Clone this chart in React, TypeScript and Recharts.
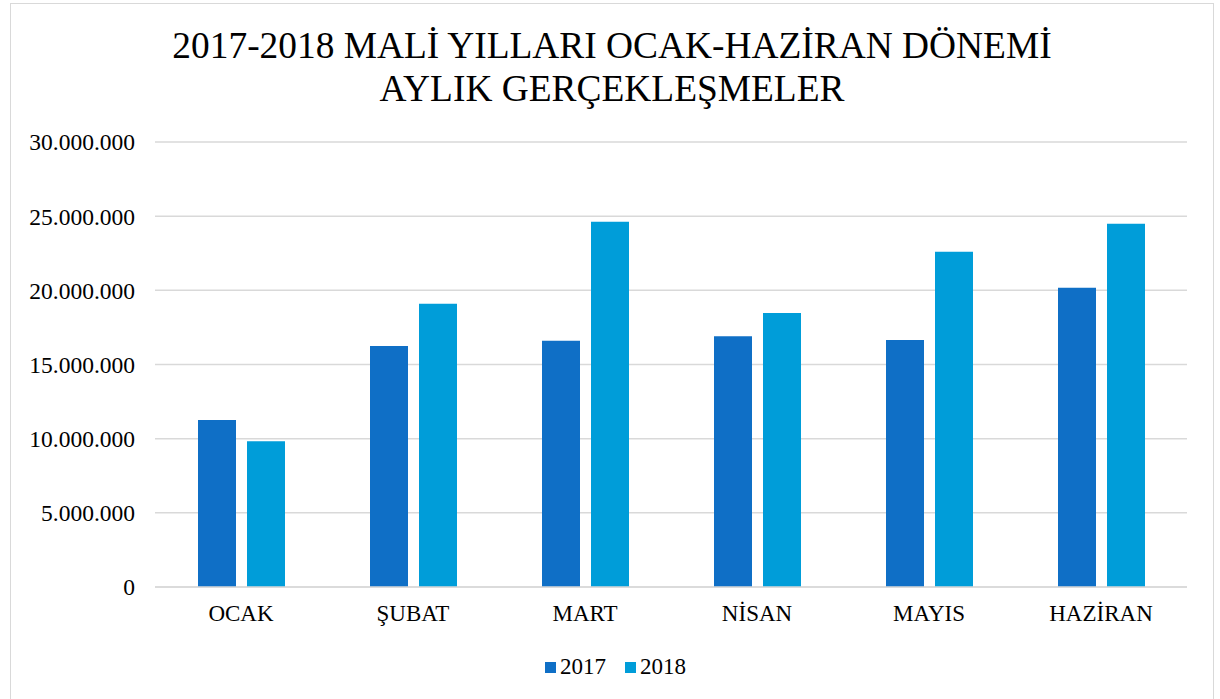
import React from 'react';
import { BarChart, Bar, XAxis, YAxis, CartesianGrid } from 'recharts';

const months = ['OCAK', 'ŞUBAT', 'MART', 'NİSAN', 'MAYIS', 'HAZİRAN'];
const values2017 = [11260000, 16250000, 16600000, 16900000, 16650000, 20170000];
const values2018 = [9830000, 19090000, 24620000, 18480000, 22600000, 24490000];
const yTicks = [0, 5000000, 10000000, 15000000, 20000000, 25000000, 30000000];
const titleLines = ['2017-2018 MALİ YILLARI OCAK-HAZİRAN DÖNEMİ', 'AYLIK GERÇEKLEŞMELER'];
const seriesNames = ['2017', '2018'];
const colors = ['#0F6FC6', '#009DD9'];

const data = months.map((m, i) => ({ month: m, v2017: values2017[i], v2018: values2018[i] }));

const fmt = (v: number) => (v === 0 ? '0' : String(v).replace(/\B(?=(\d{3})+(?!\d))/g, '.'));

const font = '"Liberation Serif", "Times New Roman", serif';

export default function App() {
  return (
    <div style={{ position: 'absolute', left: 0, top: 0, width: 1220, height: 699, background: '#fff', fontFamily: font, overflow: 'hidden' }}>
      <div style={{ position: 'absolute', left: 10, top: 3, width: 1204, height: 700, border: '1px solid #D9D9D9', boxSizing: 'border-box' }} />
      <div style={{ position: 'absolute', left: 0, top: 24, width: 1224, textAlign: 'center', fontSize: 37.4, lineHeight: '43px', color: '#000' }}>
        {titleLines.map((t) => (
          <div key={t}>{t}</div>
        ))}
      </div>
      <div style={{ position: 'absolute', left: 0, top: 0 }}>
        <BarChart width={1220} height={699} data={data} margin={{ top: 142, right: 33, bottom: 72, left: 10 }} barSize={38} barGap={11}>
          <CartesianGrid vertical={false} stroke="#D9D9D9" strokeWidth={1.5} />
          <XAxis
            dataKey="month"
            axisLine={{ stroke: '#D9D9D9', strokeWidth: 1.5 }}
            tickLine={false}
            tickSize={0}
            tickMargin={18}
            height={40}
            tick={{ fill: '#000', fontSize: 23, fontFamily: font }}
          />
          <YAxis
            domain={[0, 30000000]}
            ticks={yTicks}
            tickFormatter={fmt}
            axisLine={false}
            tickLine={false}
            tickSize={0}
            tickMargin={20}
            width={145}
            tick={{ fill: '#000', fontSize: 23.5, fontFamily: font }}
          />
          <Bar dataKey="v2017" fill={colors[0]} isAnimationActive={false} />
          <Bar dataKey="v2018" fill={colors[1]} isAnimationActive={false} />
        </BarChart>
      </div>
      <div style={{ position: 'absolute', left: 545, top: 650, display: 'flex', fontSize: 23, lineHeight: '34px', color: '#000', gap: 19 }}>
        {seriesNames.map((n, i) => (
          <div key={n} style={{ display: 'flex', alignItems: 'center' }}>
            <span style={{ display: 'inline-block', width: 11, height: 11, background: colors[i], marginRight: 4 }} />
            <span>{n}</span>
          </div>
        ))}
      </div>
    </div>
  );
}
